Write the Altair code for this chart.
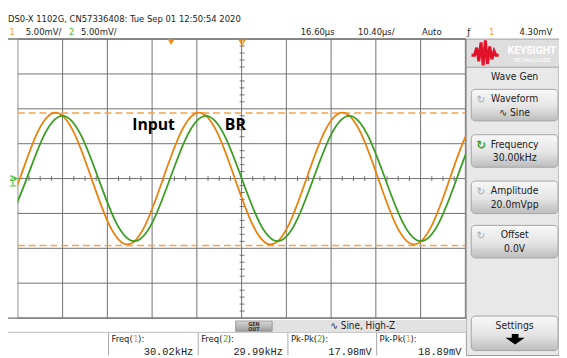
import altair as alt
import pandas as pd

# ---- data ----
# channel 1 (orange) samples: time in microseconds, voltage in mV
ch1_t = [-3.70, 0.46, 4.62, 8.79, 12.95, 17.12, 21.28, 25.45, 29.61, 33.77, 37.94, 42.10, 46.27, 50.43,
         54.60, 58.76, 62.92, 67.09, 71.25, 75.42, 79.58, 83.75, 87.91, 92.07, 96.24, 100.40, 104.57, 108.73]
ch1_mv = [-6.68, 0.0, 6.68, 9.45, 6.68, 0.0, -6.68, -9.45, -6.68, 0.0, 6.68, 9.45, 6.68, 0.0,
          -6.68, -9.45, -6.68, 0.0, 6.68, 9.45, 6.68, 0.0, -6.68, -9.45, -6.68, 0.0, 6.68, 9.45]
# channel 2 (green)
ch2_t = [-2.10, 2.06, 6.22, 10.39, 14.55, 18.72, 22.88, 27.05, 31.21, 35.37, 39.54, 43.70, 47.87, 52.03,
         56.20, 60.36, 64.52, 68.69, 72.85, 77.02, 81.18, 85.35, 89.51, 93.67, 97.84, 102.00, 106.17, 110.33]
ch2_mv = [-6.36, 0.0, 6.36, 8.99, 6.36, 0.0, -6.36, -8.99, -6.36, 0.0, 6.36, 8.99, 6.36, 0.0,
          -6.36, -8.99, -6.36, 0.0, 6.36, 8.99, 6.36, 0.0, -6.36, -8.99, -6.36, 0.0, 6.36, 8.99]
cursor_mv = [9.4, -9.6]
grid_t = [0, 10.4, 20.8, 31.2, 41.6, 52.0, 62.4, 72.8, 83.2, 93.6, 104.0]
grid_mv = [-20, -15, -10, -5, 0, 5, 10, 15, 20]
minor_t = [round(i * 2.6, 2) for i in range(1, 40) if i % 4]
minor_mv = [i for i in range(-19, 20) if i % 5]

header_line1 = "DS0-X 1102G, CN57336408: Tue Sep 01 12:50:54 2020"
meas_titles = ["Freq(", "Freq(", "Pk-Pk(", "Pk-Pk("]
meas_ch = ["1", "2", "2", "1"]
meas_values = ["30.02kHz", "29.99kHz", "17.98mV", "18.89mV"]

ORANGE = "#E8820C"
GREEN = "#3A9E22"
ORANGE_TXT = "#F2A23A"
GREEN_TXT = "#4DBB3A"
GRID = "#707070"
FONT = "Liberation Sans Narrow, DejaVu Sans Condensed, Arial Narrow, sans-serif"
MONO = "Liberation Mono, DejaVu Sans Mono, monospace"

W, H = 559, 350
O = 8  # page margin offset
xs = alt.Scale(domain=[0, 104], range=[18 - O, 472 - O])
ys = alt.Scale(domain=[-20, 20], range=[320 - O, 37 - O])
one = alt.Data(values=[{}])


def rect(x1, y1, x2, y2, **kw):
    return alt.Chart(one).mark_rect(**kw).encode(
        x=alt.value(x1 - O), x2=alt.value(x2 - O), y=alt.value(y1 - O), y2=alt.value(y2 - O))


def hrule(x1, x2, y, **kw):
    return alt.Chart(one).mark_rule(**kw).encode(
        x=alt.value(x1 - O), x2=alt.value(x2 - O), y=alt.value(y - O))


def vrule(x, y1, y2, **kw):
    return alt.Chart(one).mark_rule(**kw).encode(
        x=alt.value(x - O), y=alt.value(y1 - O), y2=alt.value(y2 - O))


def txt(x, y, s, size=9.5, color="#222222", align="left", font=FONT, **kw):
    return alt.Chart(one).mark_text(text=s, fontSize=size, color=color, align=align,
                                    baseline="alphabetic", font=font, **kw).encode(
        x=alt.value(x - O), y=alt.value(y - O))


layers = []

# grid
layers.append(alt.Chart(pd.DataFrame({"t": grid_t})).mark_rule(color=GRID, strokeWidth=1).encode(
    x=alt.X("t:Q", scale=xs, axis=None), y=alt.value(37 - O), y2=alt.value(320 - O)))
layers.append(alt.Chart(pd.DataFrame({"v": grid_mv})).mark_rule(color=GRID, strokeWidth=1).encode(
    y=alt.Y("v:Q", scale=ys, axis=None), x=alt.value(18 - O), x2=alt.value(472 - O)))
# minor ticks on centre lines
layers.append(alt.Chart(pd.DataFrame({"t": minor_t})).mark_rule(color=GRID, strokeWidth=1).encode(
    x=alt.X("t:Q", scale=xs, axis=None), y=alt.value(176 - O), y2=alt.value(181 - O)))
layers.append(alt.Chart(pd.DataFrame({"v": minor_mv})).mark_rule(color=GRID, strokeWidth=1).encode(
    y=alt.Y("v:Q", scale=ys, axis=None), x=alt.value(243 - O), x2=alt.value(248 - O)))

# cursors
layers.append(alt.Chart(pd.DataFrame({"v": cursor_mv})).mark_rule(
    color="#F5A34A", strokeWidth=1.4, strokeDash=[7, 4]).encode(
    y=alt.Y("v:Q", scale=ys, axis=None), x=alt.value(18 - O), x2=alt.value(472 - O)))

# traces
layers.append(alt.Chart(pd.DataFrame({"t": ch1_t, "v": ch1_mv})).mark_line(
    color=ORANGE, strokeWidth=1.8, interpolate="natural").encode(
    x=alt.X("t:Q", scale=xs, axis=None), y=alt.Y("v:Q", scale=ys, axis=None), order="t:Q"))
layers.append(alt.Chart(pd.DataFrame({"t": ch2_t, "v": ch2_mv})).mark_line(
    color=GREEN, strokeWidth=1.8, interpolate="natural").encode(
    x=alt.X("t:Q", scale=xs, axis=None), y=alt.Y("v:Q", scale=ys, axis=None), order="t:Q"))

# cover outside the graticule on the left
layers.append(rect(O, 36, 17.5, 321, color="white"))

# annotations
layers.append(txt(134, 129, "Input", size=16, color="black", font="Open Sans, Lato, sans-serif", fontWeight="bold"))
layers.append(txt(228, 129, "BR", size=16, color="black", font="Open Sans, Lato, sans-serif", fontWeight="bold"))

# borders
layers.append(hrule(O, 473, 37, color="#777777", strokeWidth=1.5))
layers.append(hrule(O, 473, 320, color="#777777", strokeWidth=1.2))

# markers
layers.append(alt.Chart(one).mark_point(shape="triangle-down", filled=True, color="#F08A10", size=45, opacity=1).encode(
    x=alt.value(173.5 - O), y=alt.value(40 - O)))
layers.append(alt.Chart(one).mark_point(shape="triangle-down", filled=False, color="#F08A10", size=30, strokeWidth=1.3, opacity=1).encode(
    x=alt.value(245.5 - O), y=alt.value(40.5 - O)))
layers.append(txt(9.5, 181, "2", size=7.5, color=GREEN_TXT, fontWeight="bold"))
layers.append(alt.Chart(one).mark_point(shape="triangle-right", filled=True, color=GREEN_TXT, size=22, opacity=1).encode(
    x=alt.value(16 - O), y=alt.value(178.5 - O)))
layers.append(vrule(13, 180, 186, color=GREEN_TXT, strokeWidth=1))
layers.append(hrule(10, 16.5, 186, color=GREEN_TXT, strokeWidth=1))

# header
layers.append(txt(O, 19.5, header_line1, size=9.5))
layers.append(txt(9.5, 33, "1", size=9.5, color=ORANGE_TXT))
layers.append(txt(26, 33, "5.00mV/", size=9.5))
layers.append(txt(70, 33, "2", size=9.5, color=GREEN_TXT))
layers.append(txt(82, 33, "5.00mV/", size=9.5))
layers.append(txt(305, 33, "16.60µs", size=9.5))
layers.append(txt(363, 33, "10.40µs/", size=9.5))
layers.append(txt(428, 33, "Auto", size=9.5))
layers.append(txt(474, 33, "ƒ", size=9.5))
layers.append(txt(496, 33, "1", size=9.5, color=ORANGE_TXT))
layers.append(txt(527, 33, "4.30mV", size=9.5))

# right panel
layers.append(rect(473, 37, 567, 358, color="#E8E8E8", stroke="#9A9A9A", strokeWidth=1))
layers.append(rect(474, 38, 567, 65, color="#DEDEDE"))
layers.append(hrule(473, 567, 65.5, color="#A0A0A0", strokeWidth=1))
logo = "M -1 0.1 L -0.78 0.1 L -0.62 -0.45 L -0.46 0.55 L -0.3 -0.85 L -0.14 0.85 L 0.02 -1 L 0.18 0.75 L 0.34 -0.55 L 0.5 0.4 L 0.66 -0.2 L 0.8 0.1 L 1 0.1"
layers.append(alt.Chart(one).mark_point(shape=logo, filled=False, color="#E3122B", size=760, strokeWidth=3, opacity=1).encode(
    x=alt.value(492 - O), y=alt.value(52 - O)))
layers.append(txt(539.5, 52, "KEYSIGHT", size=10.5, color="white", align="center",
                  font="Roboto, Open Sans, sans-serif", fontWeight="bold"))
layers.append(txt(539.5, 60, "TECHNOLOGIES", size=5.2, color="white", align="center",
                  font="Roboto, Open Sans, sans-serif"))
layers.append(txt(522, 79, "Wave Gen", size=10.5, align="center"))

grad = alt.LinearGradient(gradient="linear", x1=0, x2=0, y1=0, y2=1, stops=[
    alt.GradientStop(color="#F8F8F8", offset=0), alt.GradientStop(color="#E4E4E4", offset=0.55),
    alt.GradientStop(color="#BDBDBD", offset=1)])
buttons = [(88, 120, "Waveform", "\u223f  Sine", "#B0B0B0"),
           (134, 167, "Frequency", "30.00kHz", GREEN),
           (181, 214, "Amplitude", "20.0mVpp", "#B0B0B0"),
           (226, 259, "Offset", "0.0V", "#B0B0B0")]
for y1, y2, title, val, icol in buttons:
    layers.append(rect(478, y1, 566, y2, color=grad, stroke="#A6A6A6", strokeWidth=1, cornerRadius=4))
    layers.append(txt(522, y1 + 13, title, size=10.5, align="center"))
    layers.append(txt(522, y1 + 27, val, size=10.5, align="center"))
    layers.append(txt(488, y1 + 14, "\u21bb", size=12 if icol == GREEN else 11, color=icol, align="center",
                      font="DejaVu Sans, sans-serif", fontWeight="bold" if icol == GREEN else "normal"))
layers.append(rect(478, 318, 566, 353, color=grad, stroke="#A6A6A6", strokeWidth=1, cornerRadius=4))
layers.append(txt(522, 331, "Settings", size=10.5, align="center"))
arrow = "M -1 -0.2 L -0.35 -0.2 L -0.35 -0.6 L 0.35 -0.6 L 0.35 -0.2 L 1 -0.2 L 0 0.5 Z"
layers.append(alt.Chart(one).mark_point(shape=arrow, filled=True, color="black", size=380, opacity=1).encode(
    x=alt.value(522.5 - O), y=alt.value(342 - O)))

# bottom bar
layers.append(rect(276, 322, 473, 334, color="#E2E2E2"))
layers.append(rect(239, 323, 276, 333.5, color=alt.LinearGradient(gradient="linear", x1=0, x2=0, y1=0, y2=1, stops=[
    alt.GradientStop(color="#D8D8D8", offset=0), alt.GradientStop(color="#9C9C9C", offset=1)]),
    stroke="#8A8A8A", strokeWidth=0.8))
layers.append(txt(257.5, 328, "GEN", size=5.5, color="#333333", align="center", fontWeight="bold"))
layers.append(txt(257.5, 333, "OUT", size=5.5, color="#333333", align="center", fontWeight="bold"))
layers.append(txt(368, 331, "\u223f  Sine, High-Z", size=10, align="center"))
layers.append(hrule(O, 473, 334.5, color="#BDBDBD", strokeWidth=1))
sep_x = [110, 201, 292, 382]
col_end = [201, 292, 382, 473]
for i in range(4):
    layers.append(vrule(sep_x[i], 335, 358, color="#A8A8A8", strokeWidth=1))
    layers.append(alt.Chart(one).mark_text(fontSize=9.5, font=FONT, baseline="alphabetic", align="left").encode(
        x=alt.value(sep_x[i] + 3 - O), y=alt.value(344 - O), text=alt.value(meas_titles[i]), color=alt.value("#222222")))
    base = 4.4 * len(meas_titles[i])
    layers.append(txt(sep_x[i] + 3 + base, 344, meas_ch[i], size=9.5,
                      color=ORANGE_TXT if meas_ch[i] == "1" else GREEN_TXT))
    layers.append(txt(sep_x[i] + 3 + base + 5, 344, "):", size=9.5))
    layers.append(txt(col_end[i] - 5, 357, meas_values[i], size=10.5, align="right", font=MONO))

chart = alt.layer(*layers).properties(
    width=W, height=H, padding=0, autosize=alt.AutoSizeParams(type="none"),
    background="white"
).configure_view(stroke=None)

chart.save("out.html", embed_options={"renderer": "svg", "actions": False})
